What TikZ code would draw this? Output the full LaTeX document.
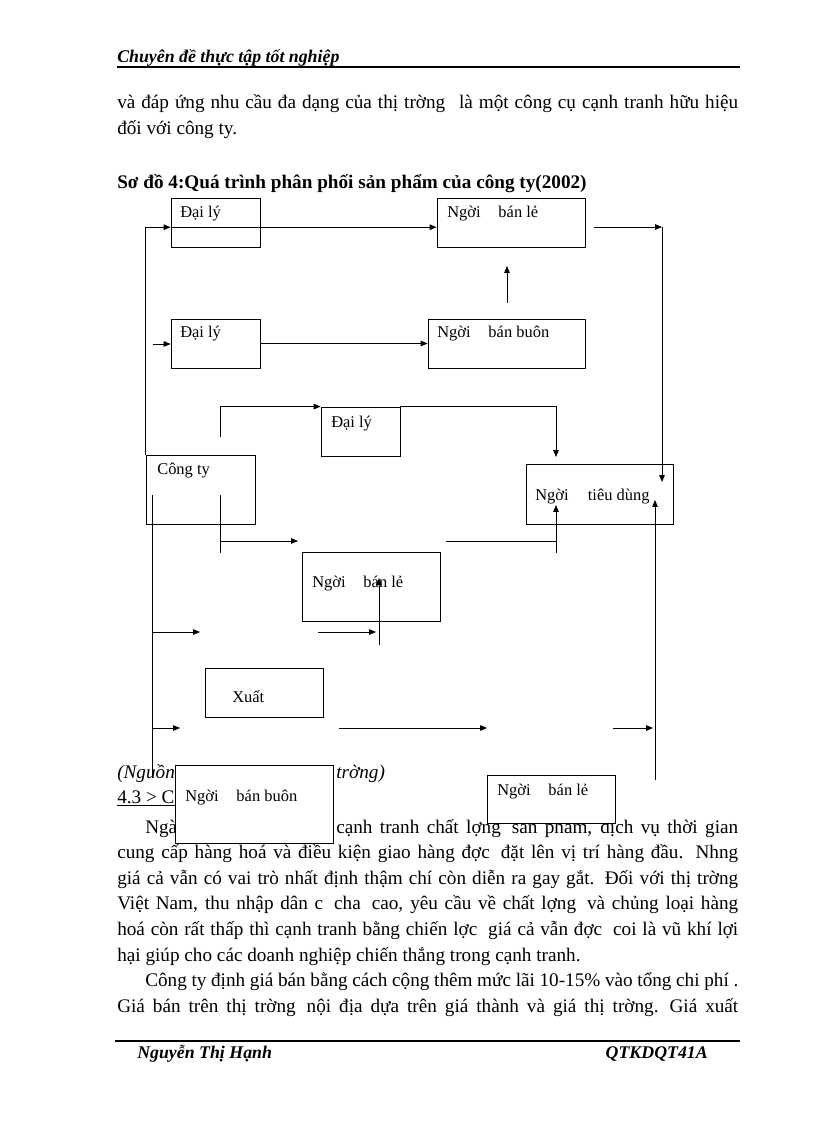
\documentclass[tikz,border=0pt]{standalone}
\usepackage{fontspec}
\setmainfont{Liberation Serif}
\usetikzlibrary{arrows.meta,fit,calc}
\begin{document}
\begin{tikzpicture}[x=0.7292pt,y=-0.7292pt,
  box/.style={draw,line width=0.6pt,inner sep=0pt},
  wbox/.style={draw,line width=0.6pt,inner sep=0pt,fill=white},
  lbl/.style={anchor=base west,inner sep=0pt,font=\fontsize{12}{14}\selectfont},
  ln/.style={line width=0.6pt},
  arr/.style={line width=0.6pt,-{Triangle[length=5pt,width=4pt]}},
  body/.style={anchor=base west,inner sep=0pt,font=\fontsize{14}{16}\selectfont},
  hf/.style={anchor=base west,inner sep=0pt,font=\fontsize{13}{15}\selectfont\bfseries\itshape},
]
\useasboundingbox (0,0) rectangle (816,1123);
\fill[white] (0,0) rectangle (816,1123);

% header
\node[hf] (hdr) at (117,63) {Chuyên đề thực tập tốt nghiệp};
\coordinate (hr1) at (117,67); \coordinate (hr2) at (740,67);
\draw[line width=0.8pt] (hr1) -- (hr2);

% top paragraph
\node[body] (t1) at (117,109) {\makebox[452.8pt][s]{và đáp ứng nhu cầu đa dạng của thị trờng\hspace{10pt}là một công cụ cạnh tranh hữu hiệu}};
\node[body] (t2) at (117,135) {đối với công ty.};
\node[body,font=\fontsize{14}{16}\selectfont\bfseries] (title) at (117,189) {Sơ đồ 4:Quá trình phân phối sản phẩm của công ty(2002)};

% boxes of the diagram
\node[box,fit={(171,198)(260,247)}] (dl1) {};
\node[box,fit={(437,198)(585,247)}] (nbl1) {};
\node[box,fit={(171,319)(260,368)}] (dl2) {};
\node[box,fit={(428,319)(585,368)}] (nbb1) {};
\node[box,fit={(321,407)(400,456)}] (dl3) {};
\node[box,fit={(146,455)(255,524)}] (cty) {};
\node[box,fit={(526,464)(673,524)}] (ntd) {};
\node[box,fit={(302,552)(440,621)}] (nbl2) {};
\node[box,fit={(205,668)(323,717)}] (xuat) {};

\node[lbl] (ldl1) at (180,218) {Đại lý};
\node[lbl] (lnbl1) at (447,218) {Ngời\hspace{13pt}bán lẻ};
\node[lbl] (ldl2) at (180,338) {Đại lý};
\node[lbl] (lnbb1) at (437,338) {Ngời\hspace{13pt}bán buôn};
\node[lbl] (ldl3) at (331,427) {Đại lý};
\node[lbl] (lcty) at (157,474) {Công ty};
\node[lbl] (lntd) at (535,500) {Ngời\hspace{14pt}tiêu dùng};
\node[lbl] (lnbl2) at (312,587) {Ngời\hspace{13pt}bán lẻ};
\node[lbl] (lxuat) at (232,702) {Xuất};

% connector points
\coordinate (p1) at (594,227);
\coordinate (p2) at (662,227);
\coordinate (p3) at (662,482);
\coordinate (p4) at (507,303);
\coordinate (p5) at (507,266);
\coordinate (p6) at (153,344);
\coordinate (q1) at (220,437);
\coordinate (q3) at (556,457);
\coordinate (q4) at (220,495);
\coordinate (q5) at (220,553);
\coordinate (q6) at (220,541);
\coordinate (q7) at (298,541);
\coordinate (q8) at (446,541);
\coordinate (q9) at (556,553);
\coordinate (q10) at (556,505);
\coordinate (r1) at (152,495);
\coordinate (r2) at (152,777);
\coordinate (r3) at (152,632);
\coordinate (r4) at (200,632);
\coordinate (r5) at (152,728);
\coordinate (r6) at (180,728);
\coordinate (s1) at (318,632);
\coordinate (s2) at (376,632);
\coordinate (s3) at (379,645);
\coordinate (s4) at (379,578);
\coordinate (u1) at (339,728);
\coordinate (u2) at (487,728);
\coordinate (u3) at (613,728);
\coordinate (u4) at (653,728);
\coordinate (u5) at (655,780);
\coordinate (u6) at (655,500);

% connectors
\draw[arr] (cty.north west) |- (dl1.186);
\draw[arr] (dl1.186) -- (dl1.186 -| nbl1.west);
\draw[arr] (p1) -- (p2);
\draw[arr] (p2) -- (p3);
\draw[arr] (p4) -- (p5);
\draw[arr] (p6) -- (p6 -| dl2.west);
\draw[arr] (dl2.east) -- (dl2.east -| nbb1.west);
\draw[arr] (q1) |- (dl3.north west);
\draw[arr] (dl3.north east) -| (q3);
\draw[ln] (q4) -- (q5);
\draw[arr] (q6) -- (q7);
\draw[ln] (q8) -- (q8 -| q9);
\draw[arr] (q9) -- (q10);
\draw[ln] (r1) -- (r2);
\draw[arr] (r3) -- (r4);
\draw[arr] (r5) -- (r6);
\draw[arr] (s1) -- (s2);
\draw[arr] (s3) -- (s4);
\draw[arr] (u1) -- (u2);
\draw[arr] (u3) -- (u4);
\draw[arr] (u5) -- (u6);

% lower text
\node[body,font=\fontsize{14}{16}\selectfont\itshape] (src1) at (117,778) {(Nguồn};
\node[body,font=\fontsize{14}{16}\selectfont\itshape] (src2) at (336,778) {trờng)};
\node[body] (sec) at (117,803) {\underline{4.3 > C}};
\node[body] (l1a) at (145,833) {Ngà};
\node[body] (l1b) at (336,833) {\makebox[293.1pt][s]{cạnh tranh chất lợng\hspace{8pt}sản phẩm, dịch vụ thời gian}};
\node[body] (l2) at (117,858.6) {\makebox[452.8pt][s]{cung cấp hàng hoá và điều kiện giao hàng đợc\hspace{8pt}đặt lên vị trí hàng đầu. Nhng}};
\node[body] (l3) at (117,884.2) {\makebox[452.8pt][s]{giá cả vẫn có vai trò nhất định thậm chí còn diễn ra gay gắt. Đối với thị trờng}};
\node[body] (l4) at (117,909.8) {\makebox[452.8pt][s]{Việt Nam, thu nhập dân c\hspace{8pt}cha\hspace{8pt}cao, yêu cầu về chất lợng\hspace{8pt}và chủng loại hàng}};
\node[body] (l5) at (117,935.4) {\makebox[452.8pt][s]{hoá còn rất thấp thì cạnh tranh bằng chiến lợc\hspace{8pt}giá cả vẫn đợc\hspace{8pt}coi là vũ khí lợi}};
\node[body] (l6) at (117,961) {hại giúp cho các doanh nghiệp chiến thắng trong cạnh tranh.};
\node[body] (l7) at (145,986.6) {\makebox[432.4pt][s]{Công ty định giá bán bằng cách cộng thêm mức lãi 10-15\% vào tổng chi phí .}};
\node[body] (l8) at (117,1012.2) {\makebox[452.8pt][s]{Giá bán trên thị trờng\hspace{8pt}nội địa dựa trên giá thành và giá thị trờng.\hspace{8pt}Giá xuất}};

% overlaying boxes
\node[wbox,fit={(175,765)(333,843)}] (nbb2) {};
\node[lbl] (lnbb2) at (185,801) {Ngời\hspace{13pt}bán buôn};
\node[wbox,fit={(487,775)(615,823)}] (nbl3) {};
\node[lbl] (lnbl3) at (497,795) {Ngời\hspace{13pt}bán lẻ};

% footer
\coordinate (fr1) at (115,1041); \coordinate (fr2) at (740,1041);
\draw[line width=0.8pt] (fr1) -- (fr2);
\node[hf] (fl) at (137,1058) {Nguyễn Thị Hạnh};
\node[hf,anchor=base east] (fr) at (708,1058) {QTKDQT41A};
\end{tikzpicture}
\end{document}
